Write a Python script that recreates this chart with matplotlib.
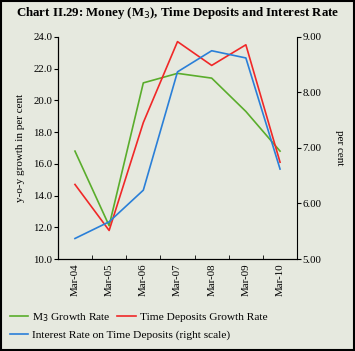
import matplotlib
matplotlib.use('Agg')
import matplotlib.pyplot as plt
import numpy as np
from matplotlib.lines import Line2D

plt.rcParams['font.family'] = ['Liberation Serif', 'DejaVu Serif']

labels = ['Mar-04', 'Mar-05', 'Mar-06', 'Mar-07', 'Mar-08', 'Mar-09', 'Mar-10']
m3_growth = [16.8, 12.1, 21.1, 21.7, 21.4, 19.3, 16.8]
td_growth = [14.7, 11.8, 18.6, 23.7, 22.2, 23.5, 16.1]
interest = [5.37, 5.67, 6.24, 8.37, 8.75, 8.62, 6.62]

bg = '#e6e9df'
fig = plt.figure(figsize=(3.55, 3.51), dpi=100, facecolor=bg)
fig.patches.append(plt.Rectangle((0.003, 0.003), 0.994, 0.994, transform=fig.transFigure,
                                 fill=False, edgecolor='black', linewidth=1.5))

ax = fig.add_axes([0.163, 0.262, 0.674, 0.633])
ax.set_facecolor('none')
ax2 = ax.twinx()

x = np.arange(len(labels))
ax.plot(x, m3_growth, color='#5aad2c', lw=1.2)
ax.plot(x, td_growth, color='#f02828', lw=1.2)
ax2.plot(x, interest, color='#2a7fd8', lw=1.2)

ax.set_xlim(-0.5, 6.5)
ax.set_ylim(10, 24)
ax.set_yticks(np.arange(10, 25, 2))
ax.set_yticklabels([f'{v:.1f}' for v in np.arange(10, 25, 2)], fontsize=7.8)
ax2.set_ylim(5, 9)
ax2.set_yticks(np.arange(5, 10, 1))
ax2.set_yticklabels([f'{v:.2f}' for v in np.arange(5, 10, 1)], fontsize=7.8)

ax.set_xticks(x)
ax.set_xticklabels(labels, rotation=90, fontsize=7.8)
ax.tick_params(axis='x', which='major', length=0, pad=3)
ax.set_xticks(np.arange(0.5, 6, 1), minor=True)
ax.tick_params(axis='x', which='minor', direction='in', length=3)
ax.tick_params(axis='y', length=3, pad=1)
ax2.tick_params(axis='y', length=3, pad=1)

for a in (ax, ax2):
    a.spines['top'].set_visible(False)
ax.spines['right'].set_visible(False)

ax.set_ylabel('y-o-y growth in per cent', fontsize=8, labelpad=6)
ax2.set_ylabel('per cent', fontsize=8, rotation=270, labelpad=16)

fig.text(0.5, 0.962, 'Chart II.29: Money (M$_3$), Time Deposits and Interest Rate',
         ha='center', va='center', fontsize=9.3, fontweight='bold')

h1 = [Line2D([], [], color='#5aad2c', lw=1.2), Line2D([], [], color='#f02828', lw=1.2)]
leg1 = fig.legend(h1, ['M$_3$ Growth Rate', 'Time Deposits Growth Rate'], ncol=2,
                  loc='center left', bbox_to_anchor=(0.015, 0.095), frameon=False,
                  fontsize=8.2, handlelength=1.6, handletextpad=0.35, columnspacing=0.6,
                  borderaxespad=0)
h2 = [Line2D([], [], color='#2a7fd8', lw=1.2)]
leg2 = fig.legend(h2, ['Interest Rate on Time Deposits (right scale)'],
                  loc='center left', bbox_to_anchor=(0.015, 0.045), frameon=False,
                  fontsize=8.2, handlelength=1.6, handletextpad=0.35, borderaxespad=0)

fig.savefig('out.png', dpi=100, facecolor=bg)
